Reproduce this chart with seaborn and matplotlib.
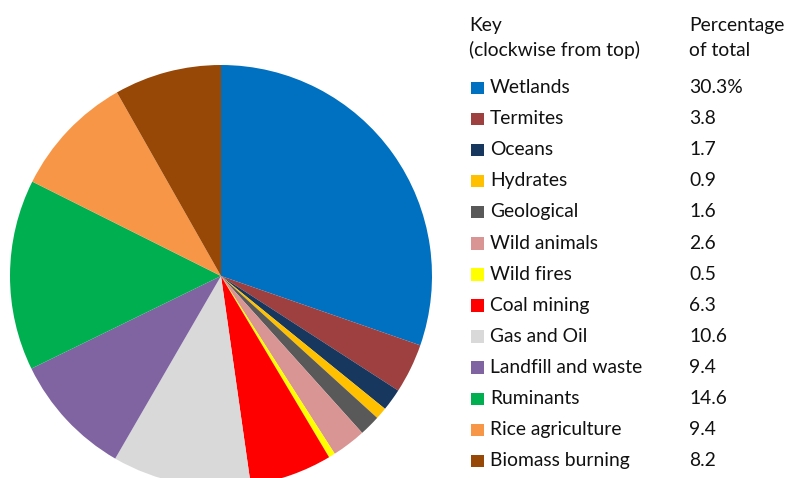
import matplotlib
matplotlib.use("Agg")
import matplotlib.pyplot as plt
from matplotlib.patches import Rectangle
import seaborn as sns

sns.set_theme(style="white")
plt.rcParams["font.family"] = ["Lato", "DejaVu Sans"]

# Methane sources, clockwise from top
sources = ["Wetlands", "Termites", "Oceans", "Hydrates", "Geological",
           "Wild animals", "Wild fires", "Coal mining", "Gas and Oil",
           "Landfill and waste", "Ruminants", "Rice agriculture", "Biomass burning"]
shares = [30.3, 3.8, 1.7, 0.9, 1.6, 2.6, 0.5, 6.3, 10.6, 9.4, 14.6, 9.4, 8.2]
share_labels = ["30.3%", "3.8", "1.7", "0.9", "1.6", "2.6", "0.5", "6.3",
                "10.6", "9.4", "14.6", "9.4", "8.2"]
colors = ["#0070C0", "#9E4040", "#17375E", "#FFC000", "#595959", "#D99594",
          "#FFFF00", "#FF0000", "#D9D9D9", "#8064A2", "#00B050", "#F79646",
          "#974706"]
palette = sns.color_palette(colors)

W, H = 787, 478
fig = plt.figure(figsize=(W / 100, H / 100), dpi=100)
fig.patch.set_facecolor("white")

# Pie axes positioned in pixel units (center 221,276; radius 211)
cx, cy, r = 221, 276, 211
ax = fig.add_axes([(cx - r) / W, (H - cy - r) / H, 2 * r / W, 2 * r / H])
ax.pie(shares, colors=palette, startangle=90, counterclock=False,
       wedgeprops=dict(linewidth=0), radius=1)
ax.set_xlim(-1, 1)
ax.set_ylim(-1, 1)
ax.axis("off")

# Key table on the right, in pixel coordinates
lax = fig.add_axes([460 / W, 0, (W - 460) / W, 1])
lax.set_xlim(460, W)
lax.set_ylim(H, 0)
lax.axis("off")

fs = 13.9
txt_color = "#111111"
lax.text(469, 25, "Key", fontsize=fs, va="center", ha="left", color=txt_color)
lax.text(469, 50, "(clockwise from top)", fontsize=fs, va="center", ha="left", color=txt_color)
lax.text(689, 25, "Percentage", fontsize=fs, va="center", ha="left", color=txt_color)
lax.text(689, 50, "of total", fontsize=fs, va="center", ha="left", color=txt_color)

y0, dy = 87.5, 31.1
for i, (name, lab, col) in enumerate(zip(sources, share_labels, palette)):
    y = y0 + i * dy
    lax.add_patch(Rectangle((471, y - 6), 12.5, 12.5, facecolor=col, edgecolor="none"))
    lax.text(490, y, name, fontsize=fs, va="center", ha="left", color=txt_color)
    lax.text(689, y, lab, fontsize=fs, va="center", ha="left", color=txt_color)

fig.savefig("out.png", dpi=100, facecolor="white")
